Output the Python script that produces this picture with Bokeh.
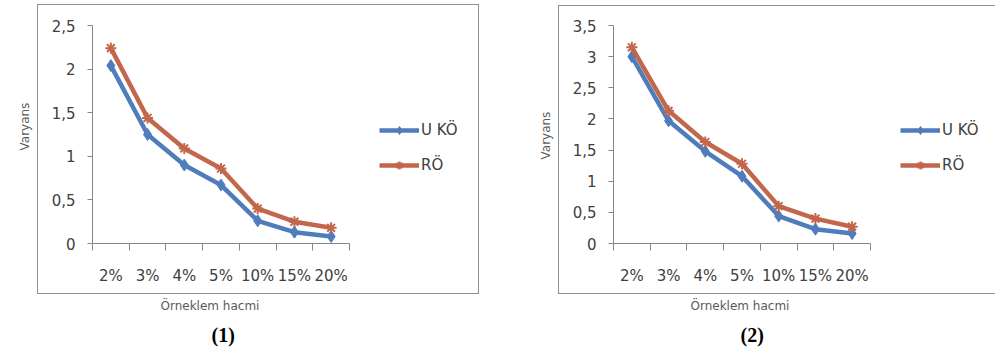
from bokeh.plotting import figure
from bokeh.models import (FixedTicker, Legend, LegendItem, Title, InlineStyleSheet,
                          Range1d, CustomJSTickFormatter)
from bokeh.layouts import row
from bokeh.embed import file_html
from bokeh.resources import INLINE

# Sample sizes (category axis) and variance values for the two designs
sizes = ["2%", "3%", "4%", "5%", "10%", "15%", "20%"]
uko_1 = [2.04, 1.25, 0.90, 0.67, 0.26, 0.13, 0.08]
ro_1 = [2.24, 1.44, 1.09, 0.86, 0.40, 0.25, 0.18]
uko_2 = [3.00, 1.97, 1.48, 1.08, 0.44, 0.23, 0.16]
ro_2 = [3.15, 2.13, 1.63, 1.28, 0.60, 0.40, 0.27]
y_ticks_1 = [0, 0.5, 1, 1.5, 2, 2.5]
y_ticks_2 = [0, 0.5, 1, 1.5, 2, 2.5, 3, 3.5]
series_names = ["U KÖ", "RÖ"]
panel_titles = ["(1)", "(2)"]
x_title = "Örneklem hacmi"
y_title = "Varyans"

BLUE = "#4f7dbb"
RED = "#c2664c"
AXIS = "#868686"
TEXT = "#404040"
LABEL = "#5a5a5a"
FONT = "DejaVu Sans"
H = 350
AXIS_LEN = 257          # pixel length of the category axis

positions = list(range(1, len(sizes) + 1))
bounds = [x - 0.5 for x in positions] + [positions[-1] + 0.5]


def panel(width, fl, fr, ft, fb, yticks, uko, ro, box, leg_xy,
          title, title_off, xlabel_off, ylabel_off):
    # chart-area border drawn by the host element
    bl, bt, bw, bh = box
    css = (":host { position: relative; }"
           ":host::after { content: ''; position: absolute; pointer-events: none;"
           f" left: {bl}px; top: {bt}px; width: {bw}px; height: {bh}px;"
           " border: 1.5px solid #8f8f8f; box-sizing: border-box; }")
    # the frame also holds the legend, so the x range runs past the last category
    px_per_cat = AXIS_LEN / len(sizes)
    x_end = bounds[0] + (fr - fl) / px_per_cat
    p = figure(width=width, height=H,
               x_range=Range1d(bounds[0], x_end),
               y_range=Range1d(yticks[0], yticks[-1]),
               output_backend="svg", toolbar_location=None,
               min_border_left=fl, min_border_right=width - fr,
               min_border_top=ft, min_border_bottom=H - fb,
               stylesheets=[InlineStyleSheet(css=css)])
    p.outline_line_color = None
    p.xgrid.visible = False
    p.ygrid.visible = False
    p.background_fill_color = "white"
    p.border_fill_color = "white"

    # value axis
    ya = p.yaxis[0]
    ya.ticker = FixedTicker(ticks=yticks, minor_ticks=[])
    ya.formatter = CustomJSTickFormatter(code="return tick.toString().replace('.', ',');")
    ya.axis_line_color = AXIS
    ya.major_tick_line_color = AXIS
    ya.major_tick_out = 5
    ya.major_tick_in = 0
    ya.minor_tick_out = 0
    ya.minor_tick_in = 0
    ya.major_label_standoff = 12
    ya.major_label_text_font = FONT
    ya.major_label_text_font_size = "15px"
    ya.major_label_text_color = TEXT

    # category axis: labels at centres, tick marks between categories
    xa = p.xaxis[0]
    xa.bounds = (bounds[0], bounds[-1])
    xa.ticker = FixedTicker(ticks=positions, minor_ticks=bounds)
    xa.formatter = CustomJSTickFormatter(args=dict(labels=sizes),
                                         code="return labels[Math.round(tick) - 1];")
    xa.axis_line_color = AXIS
    xa.major_tick_out = 0
    xa.major_tick_in = 0
    xa.minor_tick_out = 7
    xa.minor_tick_in = 0
    xa.minor_tick_line_color = AXIS
    xa.major_label_standoff = 16
    xa.major_label_text_font = FONT
    xa.major_label_text_font_size = "15px"
    xa.major_label_text_color = TEXT

    l1 = p.line(positions, uko, line_color=BLUE, line_width=4.5)
    s1 = p.scatter(positions, uko, marker="diamond", size=12,
                   fill_color=BLUE, line_color=BLUE)
    l2 = p.line(positions, ro, line_color=RED, line_width=4.5)
    s2 = p.scatter(positions, ro, marker="asterisk", size=11,
                   line_color=RED, line_width=2)

    legend = Legend(items=[LegendItem(label=series_names[0], renderers=[l1, s1]),
                           LegendItem(label=series_names[1], renderers=[l2, s2])],
                    location=(leg_xy[0] - fl, fb - leg_xy[1]),
                    glyph_width=40, glyph_height=20, label_standoff=2,
                    spacing=15, padding=0, margin=0,
                    label_text_font=FONT, label_text_font_size="15px",
                    label_text_color=TEXT, border_line_color=None,
                    background_fill_alpha=0)
    p.add_layout(legend)

    # axis titles, placed beside the tick labels
    p.add_layout(Title(text=y_title, align="left", offset=ylabel_off,
                       vertical_align="top",
                       text_font=FONT, text_font_style="normal",
                       text_font_size="12px", text_color=LABEL,
                       standoff=30), "left")
    p.add_layout(Title(text=x_title, align="left", offset=xlabel_off,
                       text_font=FONT, text_font_style="normal",
                       text_font_size="12px", text_color=LABEL,
                       standoff=18), "below")
    p.add_layout(Title(text=title, align="left", offset=title_off,
                       text_font="Liberation Serif",
                       text_font_style="bold", text_font_size="20px",
                       text_color="black", standoff=0), "below")
    return p


p1 = panel(498, 92, 478, 24, 243, y_ticks_1, uko_1, ro_1,
           (37, 4, 442, 290), (379, 175), panel_titles[0], 119, 68, 93)
p2 = panel(497, 115, 492, 25, 244, y_ticks_2, uko_2, ro_2,
           (60, 5, 445, 289), (402, 176), panel_titles[1], 127, 77, 84)

layout = row(p1, p2, spacing=0)
open("out.html", "w").write(file_html(layout, INLINE))
